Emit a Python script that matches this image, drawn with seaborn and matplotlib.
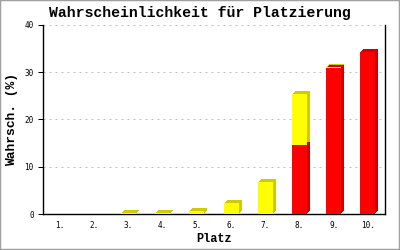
import matplotlib
matplotlib.use("Agg")
import matplotlib.pyplot as plt
import matplotlib.patheffects as pe
import seaborn as sns
import pandas as pd
from matplotlib.patches import Rectangle

categories = ["1.", "2.", "3.", "4.", "5.", "6.", "7.", "8.", "9.", "10."]
red_values = [0.0, 0.0, 0.0, 0.0, 0.0, 0.0, 0.0, 14.6, 30.9, 34.2]
yellow_values = [0.0, 0.0, 0.15, 0.15, 0.6, 2.3, 6.7, 10.8, 0.3, 0.0]
y_ticks = [0, 10, 20, 30, 40]

totals = [r + y for r, y in zip(red_values, yellow_values)]
df = pd.DataFrame({"Platz": categories, "red": red_values, "total": totals})

sns.set_theme(style="white")
plt.rcParams["font.family"] = ["Liberation Mono", "DejaVu Sans Mono"]
plt.rcParams["text.color"] = "black"
plt.rcParams["axes.labelcolor"] = "black"
plt.rcParams["xtick.color"] = "black"
plt.rcParams["ytick.color"] = "black"

DPI = 100
fig = plt.figure(figsize=(4, 2.5), dpi=DPI)
ax = fig.add_axes([43 / 400, 36 / 250, 342 / 400, 189 / 250])

px = 72 / DPI
def depth(color):
    return [pe.SimplePatchShadow(offset=(k * px, k * px), shadow_rgbFace=color, alpha=1.0, rho=1)
            for k in (3, 2, 1)]

W = 15 / 34.2
common = dict(data=df, x="Platz", order=categories, width=W, linewidth=0, ax=ax, zorder=3)

# depth faces
sns.barplot(y="total", color="#CCCC00", **common)
for p in ax.patches:
    p.set_path_effects(depth("#CCCC00"))
    p.set_facecolor("none")
n0 = len(ax.patches)
sns.barplot(y="red", color="#CC0000", **common)
for p in ax.patches[n0:]:
    p.set_path_effects(depth("#CC0000"))
    p.set_facecolor("none")
# front faces
n1 = len(ax.patches)
sns.barplot(y="total", color="#FFFF00", **common)
for p in ax.patches[n1:]:
    p.set_facecolor("#FFFF00")
n2 = len(ax.patches)
sns.barplot(y="red", color="#FF0000", **common)
for p in ax.patches[n2:]:
    p.set_facecolor("#FF0000")

ax.set_xlim(-0.5, 9.5)
ax.set_ylim(0, 40)
ax.set_yticks(y_ticks)
ax.yaxis.grid(True, color="#C0C0C0", linestyle=(0, (2, 4)), linewidth=px)
ax.set_axisbelow(True)
for s in ["left", "bottom", "right"]:
    ax.spines[s].set_visible(True)
    ax.spines[s].set_color("black")
    ax.spines[s].set_linewidth(1.4 * px)
ax.spines["top"].set_visible(False)
ax.tick_params(axis="y", left=True, length=5 * px, width=px, color="black",
               pad=3, labelsize=5.5, labelcolor="black")
ax.tick_params(axis="x", bottom=False, length=0, pad=5, labelsize=5.5, labelcolor="black")
for lab in ax.get_xticklabels() + ax.get_yticklabels():
    lab.set_family(["DejaVu Sans Mono"])

ax.set_xlabel("Platz", fontsize=8.6, fontweight="bold", labelpad=2, color="black")
ax.set_ylabel("Wahrsch. (%)", fontsize=9.4, fontweight="bold", labelpad=5, color="black")
fig.text(0.5, 1 - 13 / 250, "Wahrscheinlichkeit für Platzierung", fontsize=10.7,
         fontweight="bold", ha="center", va="center", color="black")

fig.patches.append(Rectangle((0, 0), 1, 1, transform=fig.transFigure, fill=False,
                             edgecolor="#A0A0A0", linewidth=2.5 * px, zorder=10))

fig.savefig("out.png", dpi=DPI)
